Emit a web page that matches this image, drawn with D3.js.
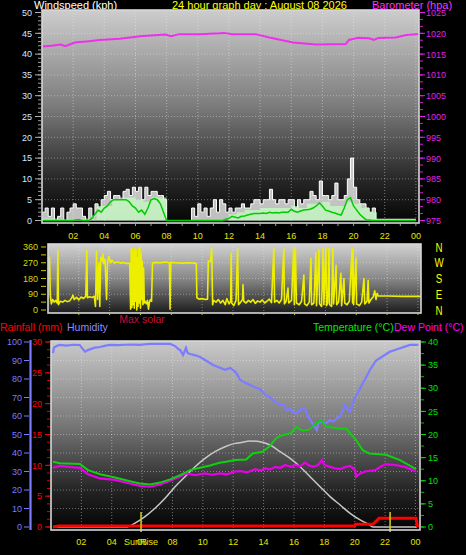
<!DOCTYPE html>
<html><head><meta charset="utf-8">
<script src="https://cdn.jsdelivr.net/npm/d3@7"></script>
<style>body{margin:0;background:#000;overflow:hidden}svg{display:block}</style>
</head><body>
<script>
// ---------------- DATA ----------------
const hourTicks = [2,4,6,8,10,12,14,16,18,20,22,24];
const hourLabels = ["02","04","06","08","10","12","14","16","18","20","22","00"];
const windTicks = [0,5,10,15,20,25,30,35,40,45,50];
const baroTicks = [975,980,985,990,995,1000,1005,1010,1015,1020,1025];
const dirTicks = [0,90,180,270,360];
const compassLabels = ["N","W","S","E","N"];
const compassDeg = [360,270,180,90,0];
const humTicks = [0,10,20,30,40,50,60,70,80,90,100];
const rainTicks = [0,5,10,15,20,25,30];
const tempTicks = [0,5,10,15,20,25,30,35,40];

// wind speed (kph), one value every 0.2 h from 00:00
const windStep = 0.2;
const windGust = [
 2,3,1,3,0,1,3,0,2,3,
 4,3,3,1,0,3,1,4,3,5,
 6,7,5,6,6,5,7,7.5,6,8,
 7,8,5,8,6,7,7,6,6,5,
 0,0,0,0,0,0,0,0,3,1,
 4,2,3,1,3,5,2,5,4,2,
 3,2,3,3,4,3,3,4,5,5,
 4,5,5,7.5,5,4,5,5,4,5,
 5,3,5,4,5,5,7,6,5,9.5,
 6,6,5,6,9,5,5,6,10,15,
 8,5,4,4,3,2,3,0.3,0.3,0.3,
 0.3,0.3,0.3,0.3,0.3,0.3,0.3,0.3,0.3,0.3,0.3];
const windAvg = [
 0,0,0,0,0,0,0,0,0,0,
 0,0.2,0.2,0,0,0,0.5,1.5,2.5,2,
 3,3.5,4.5,5,5,5,5,5,4.5,3.5,
 3,2,2.5,1.5,3,5,5.3,5,4,2,
 0,0,0,0,0,0,0,0,0,0,
 0,0,0,0,0,0,0,0,0,0.3,
 0.5,1,0.8,0.6,1,1.1,1.3,1.5,1.7,1.7,
 1.7,1.8,1.7,2,1.8,1.9,1.8,2,2,2,
 2.7,2.2,2,2.3,2.5,2.6,2.7,3,3.5,4.2,
 3.5,2.5,2.3,2,1.8,1.5,1.3,3,5,5.5,
 3.5,2.5,1.5,0.8,0.2,0.1,0,0,0,0,
 0,0,0,0,0,0,0,0,0,0,0];
// 10-minute average bars, every 0.5 h
const barStep = 0.5;
const windBars = [0.5,0.5,0.3,0.3,0.3,0.5,0.3,
 3.5,3.5,5,5.5,5.5,5,4.5,5.5,5.5,0,
 0,0,0,0,0,0,0,
 1.5,2,2.5,2.5,3,3,3,3,3.5,3,4,4,4.5,3.5,3.5,4.5,4,3,2,0,
 0,0,0,0,0];

// barometer (hPa) [hour, value]
const baro = [[0,1016.8],[0.6,1017],[1.2,1017.3],[1.5,1016.9],[2.1,1017.8],[3.0,1018.1],[3.7,1018.4],[5.0,1018.7],[6.3,1019.3],[7.9,1019.7],[8.3,1019.3],[8.8,1019.8],[10.1,1019.8],[11.4,1020],[11.7,1020.1],[12.2,1019.8],[13.7,1019.8],[14.6,1019],[16.1,1017.8],[17.6,1017.3],[19.5,1017.4],[19.7,1018.4],[20.3,1018.9],[21.0,1018.8],[21.3,1018.4],[21.6,1018.9],[22.7,1019],[23.4,1019.6],[24.0,1019.8],[24.2,1019.8]];

// wind direction (degrees) [hour, value]
const windDir = [[0.10,305],[0.15,85],[0.22,35],[0.3,60],[0.4,45],[0.5,55],[0.6,40],[0.64,340],[0.68,30],[0.8,50],[0.95,45],[1.1,55],[1.25,48],[1.4,52],[1.55,70],[1.62,85],[1.7,60],[1.85,72],[2.0,58],[2.15,74],[2.3,66],[2.45,78],[2.52,340],[2.56,70],[2.7,76],[2.85,72],[3.0,78],[3.08,20],[3.15,335],[3.22,60],[3.3,270],[3.36,20],[3.42,300],[3.5,280],[3.56,320],[3.62,265],[3.7,290],[3.8,60],[3.86,275],[3.95,305],[4.05,270],[4.15,285],[4.3,268],[4.5,275],[4.7,268],[4.9,272],[5.1,266],[5.3,268],
[5.36,5],[5.40,345],[5.44,15],[5.48,350],[5.52,30],[5.56,330],[5.6,10],[5.64,355],[5.68,50],[5.72,340],[5.76,0],[5.8,300],[5.84,20],[5.88,350],[5.92,40],[5.96,355],[6.0,10],[6.04,320],[6.08,60],[6.12,280],[6.16,30],[6.2,240],[6.25,40],[6.3,50],[6.38,35],[6.45,55],[6.52,5],[6.58,45],[6.65,60],[6.72,50],[6.78,270],
[7.0,272],[7.3,270],[7.6,274],[7.88,270],[7.92,5],[7.96,272],[8.3,270],[8.7,268],[9.1,270],[9.5,268],[9.62,265],[9.66,70],[9.8,62],[10.0,65],[10.2,60],[10.35,62],[10.4,280],[10.55,278],[10.62,355],[10.68,30],[10.75,55],[10.9,45],[11.05,60],[11.2,40],[11.35,55],[11.5,30],[11.6,65],[11.75,35],[11.85,50],[11.88,325],[11.92,40],[12.05,25],[12.2,55],[12.3,350],[12.36,30],[12.5,45],[12.62,60],[12.65,145],[12.7,50],[12.85,40],[13.0,55],[13.15,45],[13.3,60],[13.45,38],[13.6,52],[13.75,45],[13.9,58],[14.05,40],[14.2,50],[14.35,62],[14.5,42],[14.65,352],[14.7,45],[14.85,55],[15.0,40],[15.15,60],[15.3,350],[15.34,35],[15.45,50],[15.57,125],[15.62,40],[15.8,55],[15.94,355],[15.98,30],[16.05,350],[16.12,40],[16.3,30],[16.45,50],[16.6,200],[16.65,35],[16.8,25],[16.95,45],[17.06,295],[17.1,30],[17.25,40],[17.38,325],[17.42,25],[17.58,345],[17.62,35],[17.75,20],[17.85,352],[17.9,30],[18.03,353],[18.07,25],[18.15,40],[18.23,350],[18.27,30],[18.4,20],[18.48,352],[18.53,35],[18.69,255],[18.73,30],[18.85,45],[19.0,210],[19.05,25],[19.2,180],[19.25,40],[19.4,30],[19.55,50],[19.73,353],[19.76,40],[19.79,343],[19.83,30],[19.98,295],[20.02,35],[20.2,25],[20.35,45],[20.5,180],[20.55,35],[20.7,50],[20.77,170],[20.82,40],[20.95,60],[21.1,75],[21.2,110],[21.28,60],[21.35,95],[21.42,80],[22.0,80],[23.0,78],[24.2,78]];

// humidity (%) [hour, value]
const humidity = [[0.13,94],[0.2,97],[0.4,98],[0.6,98.4],[1.0,98],[1.5,98.5],[1.9,98.4],[2.1,96],[2.25,94.8],[2.4,95.5],[2.57,96],[2.9,97],[3.23,97.3],[3.6,98],[3.9,98.4],[4.4,98.3],[4.87,98.5],[5.4,98.6],[5.86,98.4],[6.2,98.8],[6.52,99],[7.2,99],[7.84,99],[8.17,97.8],[8.4,96],[8.5,95.7],[8.7,93],[8.8,95],[8.89,96.8],[9.0,94],[9.16,93.5],[9.5,92.8],[9.82,91.9],[10.2,90],[10.67,87.6],[11.0,86.5],[11.46,85],[11.8,86],[12.12,84],[12.3,82],[12.45,79.5],[12.8,78],[13.11,76.8],[13.4,75.5],[13.77,74.5],[14.1,71.5],[14.43,70],[14.7,68],[15.09,66],[15.3,66.5],[15.5,63],[15.75,64],[15.95,62],[16.14,61.5],[16.4,63],[16.5,64.5],[16.73,64],[16.9,60],[17.06,58],[17.3,55],[17.5,52.4],[17.6,56],[17.7,56.5],[17.9,57],[18.1,56],[18.38,57.8],[18.6,57],[18.8,58.5],[19.04,60],[19.2,63],[19.37,66],[19.5,64],[19.7,62.5],[19.85,66],[20.03,70],[20.2,72.5],[20.49,77],[20.75,81],[21.01,85],[21.41,90],[21.8,92],[22.33,94.8],[22.6,95.5],[22.99,96.6],[23.3,97.5],[23.65,98.4],[24.0,98.4],[24.2,98.5]];

// temperature (°C) [hour, value]
const temperature = [[0.13,14.1],[0.59,13.8],[1.91,13.6],[2.44,12.3],[3.23,11.4],[4.22,10.7],[5.2,9.9],[5.86,9.4],[6.52,9.2],[7.18,9.6],[7.84,10.3],[8.5,11.2],[9.16,12.3],[9.82,12.8],[10.47,13.3],[11.1,13.9],[11.53,14.1],[12.12,14.5],[12.85,14.6],[13.29,15.9],[13.94,16.3],[14.38,17.4],[14.82,19.2],[15.26,19.9],[15.81,20.3],[16.14,21.6],[16.58,20.8],[17.02,21.1],[17.46,22.4],[17.79,23.1],[18.12,21.7],[19.0,21.3],[19.43,21.3],[20.09,18.8],[20.53,16.6],[20.97,15.9],[22.07,15.6],[22.95,14.5],[24.04,12.5]];

// dew point (°C) [hour, value]
const dewPoint = [[0.13,12.8],[0.59,13.2],[1.2,13.0],[1.91,12.8],[2.44,11.4],[3.23,10.5],[4.22,10.2],[5.2,9.4],[5.86,8.9],[6.52,8.7],[7.18,9.2],[7.84,10.0],[8.5,10.9],[8.96,11.6],[9.49,11.2],[10.14,11.6],[10.6,11.3],[11.13,11.6],[11.6,11.4],[12.12,12.0],[12.45,12.1],[12.9,11.8],[13.44,12.5],[13.8,12.2],[14.1,12.7],[14.4,12.4],[14.76,13.0],[15.1,12.8],[15.42,13.4],[15.8,13.0],[16.07,13.4],[16.4,13.1],[16.73,13.9],[17.0,13.3],[17.26,13.0],[17.6,13.4],[17.85,14.5],[18.0,13.4],[18.38,13.0],[18.7,12.7],[19.04,12.5],[19.4,13.0],[19.7,13.2],[20.03,12.3],[20.09,10.9],[20.36,11.6],[20.69,12.0],[21.34,12.3],[22.0,13.6],[22.66,13.4],[23.32,13.0],[24.04,12.0]];

// max solar (W/m²) [hour, value]
const maxSolar = [[0.13,0],[4.94,0],[5.53,21],[6.19,56],[6.85,101],[7.51,155],[8.17,218],[8.83,272],[9.49,326],[10.14,371],[10.8,407],[11.46,434],[12.12,452],[12.45,456],[13.11,465],[13.77,461],[14.43,443],[15.09,407],[15.75,371],[16.4,326],[17.06,272],[17.72,218],[18.38,164],[19.04,119],[19.7,74],[20.36,38],[20.88,16],[21.21,0],[24.1,0]];

// rainfall (mm) [hour, value]
const rainfall = [[0.13,0],[0.5,0.16],[20.0,0.16],[20.05,0.44],[21.2,0.44],[21.6,1.41],[24.04,1.41],[24.14,0]];

const sunRise = 5.93, sunSet = 22.33;

// ---------------- DRAW ----------------
const W = 466, H = 555;
const FONT = "'Liberation Sans', Arial, sans-serif";
const svg = d3.select("body").append("svg").attr("width", W).attr("height", H)
  .style("background", "#000").style("font-family", FONT);
const defs = svg.append("defs");
function grad(id, stops) {
  const g = defs.append("linearGradient").attr("id", id).attr("x1", 0).attr("y1", 0).attr("x2", 0).attr("y2", 1);
  stops.forEach(s => g.append("stop").attr("offset", s[0]).attr("stop-color", s[1]));
}
grad("gTop", [[0, "#cdcdcd"], [0.45, "#7c7c7c"], [0.8, "#262626"], [1, "#050505"]]);
grad("gMid", [[0, "#d2d2d2"], [0.5, "#888888"], [1, "#1c1c1c"]]);
grad("gBot", [[0, "#cacaca"], [0.45, "#767676"], [0.8, "#222222"], [1, "#030303"]]);

function panel(x0, x1, y0, y1, gid) {
  svg.append("rect").attr("x", x0).attr("y", y0).attr("width", x1 - x0).attr("height", y1 - y0)
    .attr("fill", `url(#${gid})`);
}
function frame(x0, x1, y0, y1) {
  svg.append("rect").attr("x", x0).attr("y", y0).attr("width", x1 - x0).attr("height", y1 - y0)
    .attr("fill", "none").attr("stroke", "#d8d8d8").attr("stroke-width", 1.6);
}
function vgrid(xs, y0, y1) {
  svg.append("g").selectAll("line").data(hourTicks).join("line")
    .attr("x1", d => xs(d)).attr("x2", d => xs(d)).attr("y1", y0).attr("y2", y1)
    .attr("stroke", "#eeeeee").attr("stroke-opacity", 0.45).attr("stroke-dasharray", "1,2");
}
function hgrid(vals, ys, x0, x1) {
  svg.append("g").selectAll("line").data(vals).join("line")
    .attr("x1", x0).attr("x2", x1).attr("y1", d => ys(d)).attr("y2", d => ys(d))
    .attr("stroke", "#eeeeee").attr("stroke-opacity", 0.4).attr("stroke-dasharray", "1,2");
}
function txt(x, y, s, color, size, anchor) {
  return svg.append("text").attr("x", x).attr("y", y).text(s).attr("fill", color)
    .attr("font-size", size).attr("text-anchor", anchor || "start");
}
function ticksV(vals, ys, x0, x1, color) {
  svg.append("g").selectAll("line").data(vals).join("line")
    .attr("x1", x0).attr("x2", x1).attr("y1", d => ys(d)).attr("y2", d => ys(d))
    .attr("stroke", color).attr("stroke-width", 1);
}

// ---- Titles
txt(34, 8.5, "Windspeed (kph)", "#ffffff", 11);
txt(172, 8.5, "24 hour graph day : August 08 2026", "#ffff00", 11);
txt(372, 8.5, "Barometer (hpa)", "#ff30ff", 11);

// ---- TOP PANEL
const T = {x0: 42, x1: 419, y0: 10, y1: 223};
const xTop = d3.scaleLinear([0, 24.2], [T.x0, T.x1]);
const yWind = d3.scaleLinear([0, 50], [220.5, 12.5]);
const yBaro = d3.scaleLinear([975, 1025], [220.5, 12.5]);
panel(T.x0, T.x1, T.y0, T.y1, "gTop");
hgrid(windTicks.slice(1, -1), yWind, T.x0, T.x1);
vgrid(xTop, T.y0, T.y1);

const gustPts = windGust.map((v, i) => [i * windStep, v]);
const avgPts = windAvg.map((v, i) => [i * windStep, v]);
const barPts = windBars.map((v, i) => [i * barStep, v]);
svg.append("path").datum(gustPts)
  .attr("d", d3.area().x(d => xTop(d[0])).y0(yWind(0)).y1(d => yWind(d[1])).curve(d3.curveStepAfter))
  .attr("fill", "#f4f4f4").attr("fill-opacity", 0.78);
svg.append("path").datum(gustPts)
  .attr("d", d3.line().x(d => xTop(d[0])).y(d => yWind(d[1])).curve(d3.curveStepAfter))
  .attr("fill", "none").attr("stroke", "#ffffff").attr("stroke-width", 1);
svg.append("path").datum(barPts)
  .attr("d", d3.area().x(d => xTop(d[0])).y0(yWind(0)).y1(d => yWind(d[1])).curve(d3.curveStepAfter))
  .attr("fill", "#c4ffc0").attr("fill-opacity", 0.7);
svg.append("path").datum(avgPts)
  .attr("d", d3.line().x(d => xTop(d[0])).y(d => yWind(d[1])))
  .attr("fill", "none").attr("stroke", "#00cc00").attr("stroke-width", 1.5);
svg.append("path").datum(baro)
  .attr("d", d3.line().x(d => xTop(d[0])).y(d => yBaro(d[1])))
  .attr("fill", "none").attr("stroke", "#ee30ee").attr("stroke-width", 2);
frame(T.x0, T.x1, T.y0, T.y1);

// left wind axis
ticksV(d3.range(0, 51, 1), yWind, 38, 41, "#9a9a9a");
ticksV(windTicks, yWind, 35, 41, "#b0b0b0");
windTicks.forEach(v => txt(32, yWind(v) + 3.2, String(v), "#d6e8ff", 9, "end"));
// right baro axis
ticksV(d3.range(975, 1025.01, 5 / 3), yBaro, 420, 423, "#d020d0");
ticksV(baroTicks, yBaro, 420, 425, "#e020e0");
baroTicks.forEach(v => txt(426, yBaro(v) + 3.4, String(v), "#e020e0", 9, "start"));
// hour ticks + labels
svg.append("g").selectAll("line").data(d3.range(1, 25)).join("line")
  .attr("x1", d => xTop(d)).attr("x2", d => xTop(d)).attr("y1", 224).attr("y2", 226)
  .attr("stroke", "#9a9a9a");
hourTicks.forEach((h, i) => txt(xTop(h), 238.5, hourLabels[i], "#e6e600", 9, "middle"));

// ---- MIDDLE PANEL
const M = {x0: 48, x1: 421, y0: 244, y1: 313};
const xMid = d3.scaleLinear([0, 24.2], [M.x0, M.x1]);
const yDir = d3.scaleLinear([0, 360], [310, 247]);
panel(M.x0, M.x1, M.y0, M.y1, "gMid");
hgrid([90, 180, 270], yDir, M.x0, M.x1);
vgrid(xMid, M.y0, M.y1);
svg.append("path").datum(windDir)
  .attr("d", d3.line().x(d => xMid(d[0])).y(d => yDir(d[1])))
  .attr("fill", "none").attr("stroke", "#eeee00").attr("stroke-width", 1.6).attr("stroke-linejoin", "round");
frame(M.x0, M.x1, M.y0, M.y1);
ticksV(d3.range(0, 361, 45), yDir, 41, 46, "#c8c800");
dirTicks.forEach(v => txt(38, yDir(v) + 3.2, String(v), "#d8d800", 9, "end"));
svg.append("g").selectAll("line").data(hourTicks).join("line")
  .attr("x1", d => xMid(d)).attr("x2", d => xMid(d)).attr("y1", 313).attr("y2", 315)
  .attr("stroke", "#c8c800");
compassLabels.forEach((s, i) => {
  svg.append("text").text(s).attr("fill", "#ffff00").attr("font-size", 12.5)
    .attr("text-anchor", "middle")
    .attr("transform", `translate(439,${yDir(compassDeg[i]) + 4.5}) scale(0.78,1)`);
});

// ---- Titles bottom
txt(142, 323, "Max solar", "#c8103c", 10.5, "middle");
txt(0, 331, "Rainfall (mm)", "#ff0000", 10.5);
txt(67, 331, "Humidity", "#8c8cff", 10.5);
txt(313, 331, "Temperature (°C)", "#00ee00", 10.5);
txt(394, 331, "Dew Point (°C)", "#ff00ff", 10.5);

// ---- BOTTOM PANEL
const B = {x0: 51, x1: 420, y0: 341, y1: 530};
const xBot = d3.scaleLinear([0, 24.3], [B.x0, B.x1]);
const yHum = d3.scaleLinear([0, 100], [527, 342]);
const yRain = d3.scaleLinear([0, 30], [527, 342]);
const yTemp = d3.scaleLinear([0, 40], [527, 342]);
const ySolar = d3.scaleLinear([0, 1000], [527, 342]);
panel(B.x0, B.x1, B.y0, B.y1, "gBot");
hgrid(humTicks.slice(1, -1), yHum, B.x0, B.x1);
vgrid(xBot, B.y0, B.y1);

const lineB = (ys) => d3.line().x(d => xBot(d[0])).y(d => ys(d[1]));
svg.append("path").datum(maxSolar).attr("d", lineB(ySolar).curve(d3.curveMonotoneX))
  .attr("fill", "none").attr("stroke", "#c8c8c8").attr("stroke-width", 1.5);
svg.append("path").datum(humidity).attr("d", lineB(yHum))
  .attr("fill", "none").attr("stroke", "#7c7cff").attr("stroke-width", 2.2);
svg.append("path").datum(dewPoint).attr("d", lineB(yTemp))
  .attr("fill", "none").attr("stroke", "#e800e8").attr("stroke-width", 2.2);
svg.append("path").datum(temperature).attr("d", lineB(yTemp))
  .attr("fill", "none").attr("stroke", "#10d010").attr("stroke-width", 2);
svg.append("path").datum(rainfall).attr("d", lineB(yRain))
  .attr("fill", "none").attr("stroke", "#ff0000").attr("stroke-width", 3);
[sunRise, sunSet].forEach(h => {
  svg.append("line").attr("x1", xBot(h)).attr("x2", xBot(h)).attr("y1", 512).attr("y2", 532)
    .attr("stroke", "#c8c820").attr("stroke-width", 1.6);
});
frame(B.x0, B.x1, B.y0, B.y1);

// humidity axis (blue)
svg.append("line").attr("x1", 30.5).attr("x2", 30.5).attr("y1", 340).attr("y2", 530)
  .attr("stroke", "#7c7cff").attr("stroke-width", 2.2);
ticksV(humTicks, yHum, 24, 29, "#7c7cff");
humTicks.forEach(v => txt(22, yHum(v) + 3.2, String(v), "#7c7cff", 9, "end"));
// rain axis (red)
ticksV(d3.range(0, 30.01, 1.25), yRain, 47, 50, "#e00000");
ticksV(rainTicks, yRain, 45, 50, "#ff0000");
rainTicks.forEach(v => txt(42, yRain(v) + 3.2, String(v), "#ff0000", 9, "end"));
// temperature axis (green)
ticksV(d3.range(0, 40.01, 2.5), yTemp, 421, 424, "#00c000");
ticksV(tempTicks, yTemp, 421, 426, "#00e000");
tempTicks.forEach(v => txt(428, yTemp(v) + 3.2, String(v), "#00e000", 9, "start"));
// hour labels
hourTicks.forEach((h, i) => txt(xBot(h), 545, hourLabels[i], "#e6e600", 9, "middle"));
txt(xBot(sunRise), 545, "SunRise", "#e6e600", 9, "middle");
</script>
</body></html>
